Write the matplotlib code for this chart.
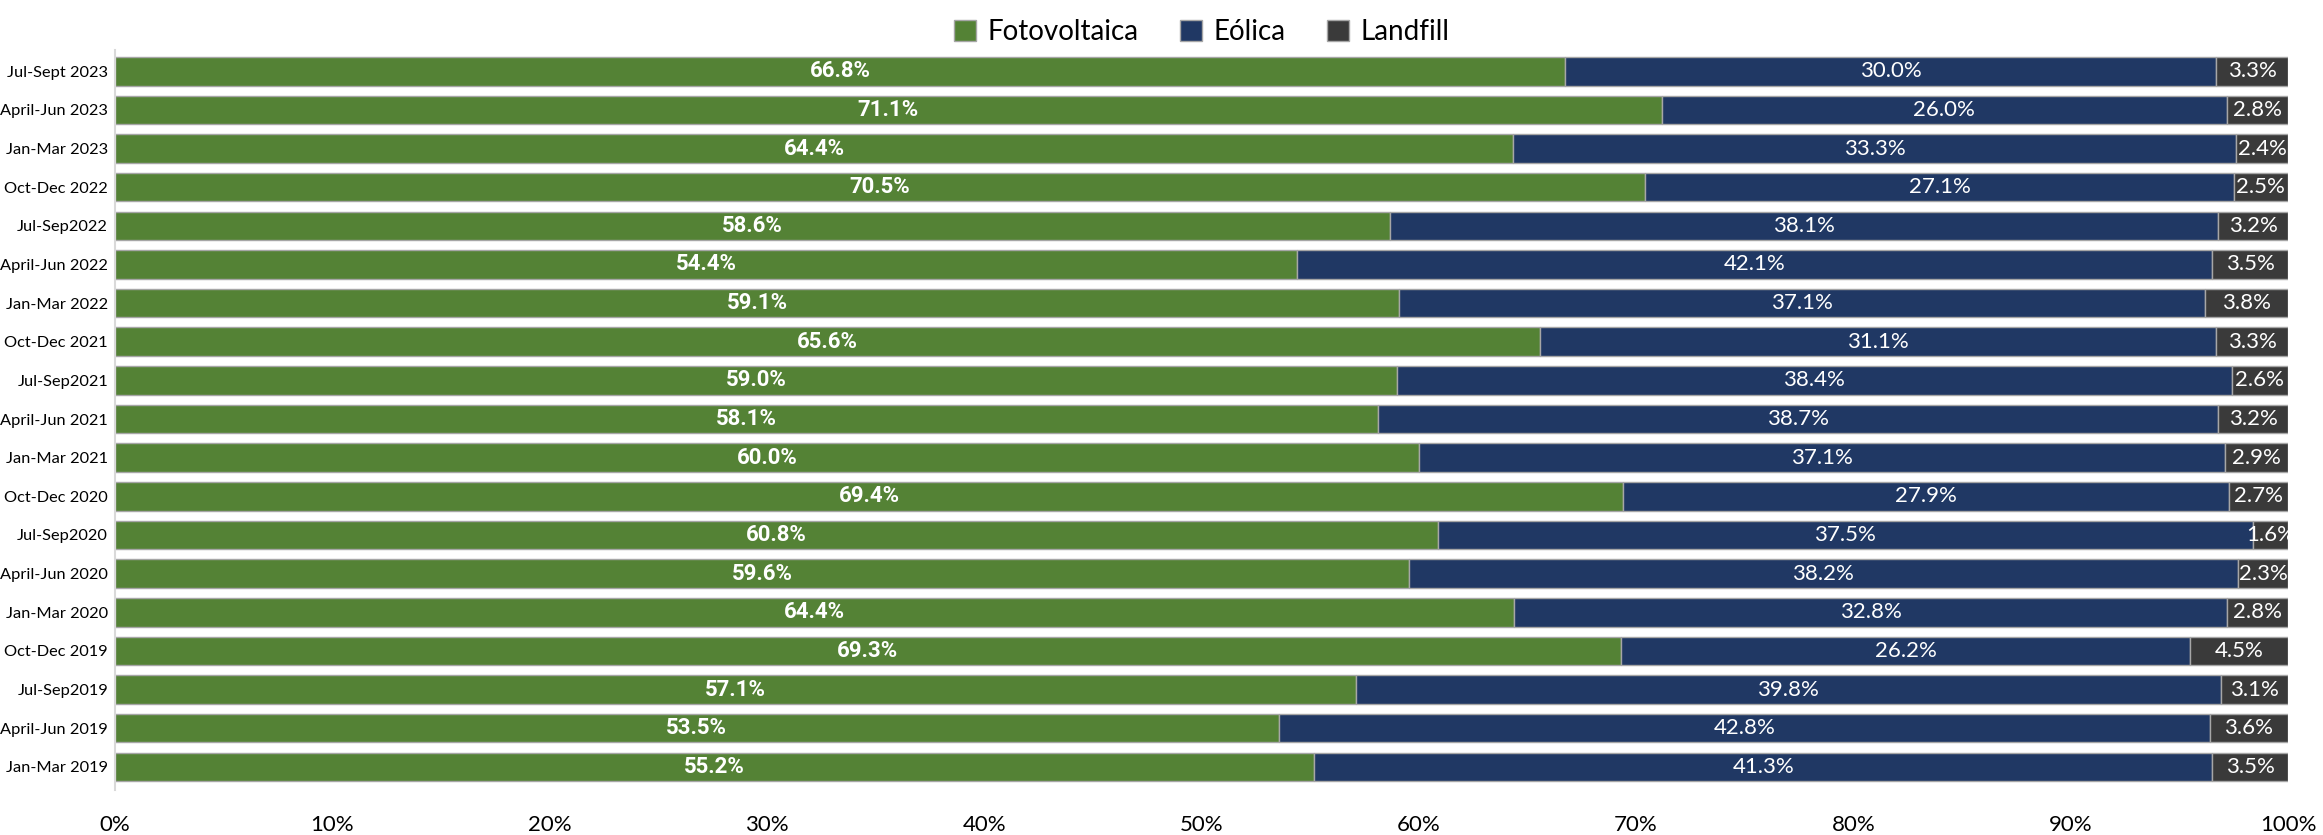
import matplotlib
matplotlib.use("Agg")
import matplotlib.pyplot as plt
import numpy as np

plt.rcParams['font.family'] = ['Lato', 'DejaVu Sans']

#%% data, top row first
periods = ['Jul-Sept 2023', 'April-Jun 2023', 'Jan-Mar 2023', 'Oct-Dec 2022', 'Jul-Sep2022',
           'April-Jun 2022', 'Jan-Mar 2022', 'Oct-Dec 2021', 'Jul-Sep2021', 'April-Jun 2021',
           'Jan-Mar 2021', 'Oct-Dec 2020', 'Jul-Sep2020', 'April-Jun 2020', 'Jan-Mar 2020',
           'Oct-Dec 2019', 'Jul-Sep2019', 'April-Jun 2019', 'Jan-Mar 2019']
fotovoltaica = [66.8, 71.1, 64.4, 70.5, 58.6, 54.4, 59.1, 65.6, 59.0, 58.1,
                60.0, 69.4, 60.8, 59.6, 64.4, 69.3, 57.1, 53.5, 55.2]
eolica = [30.0, 26.0, 33.3, 27.1, 38.1, 42.1, 37.1, 31.1, 38.4, 38.7,
          37.1, 27.9, 37.5, 38.2, 32.8, 26.2, 39.8, 42.8, 41.3]
landfill = [3.3, 2.8, 2.4, 2.5, 3.2, 3.5, 3.8, 3.3, 2.6, 3.2,
            2.9, 2.7, 1.6, 2.3, 2.8, 4.5, 3.1, 3.6, 3.5]

series = [('Fotovoltaica', fotovoltaica, '#548235', 'bold'),
          ('Eólica', eolica, '#203864', 'normal'),
          ('Landfill', landfill, '#3a3a3a', 'normal')]

#%%
vals = np.array([fotovoltaica, eolica, landfill])
shares = vals / vals.sum(axis=0) * 100
y = np.arange(len(periods))[::-1]

fig = plt.figure(figsize=(23.23, 8.35), dpi=100)
ax = fig.add_axes([115/2323, 1 - 790/835, (2288-115)/2323, (790-50)/835])

left = np.zeros(len(periods))
for (name, raw, color, weight), share in zip(series, shares):
    bars = ax.barh(y, share, left=left, height=0.74, color=color,
                   edgecolor='#a6a6a6', linewidth=1.0, label=name)
    fam = ['Roboto', 'DejaVu Sans'] if weight == 'bold' else ['Lato', 'DejaVu Sans']
    for b, v in zip(bars, raw):
        ax.text(b.get_x() + b.get_width() / 2, b.get_y() + b.get_height() / 2,
                f'{v:.1f}%', ha='center', va='center', color='white',
                fontsize=16, fontweight=weight, family=fam, clip_on=True)
    left = left + share

ax.set_xlim(0, 100)
ax.set_ylim(-0.5 - 0.1, len(periods) - 0.5 + 0.05)
ax.set_yticks(y)
ax.set_yticklabels(periods, fontsize=11.8)
ax.set_xticks(np.arange(0, 101, 10))
ax.set_xticklabels([f'{t}%' for t in range(0, 101, 10)], fontsize=16)
ax.tick_params(axis='both', length=0)
ax.tick_params(axis='y', pad=5)
ax.tick_params(axis='x', pad=18)
for s in ['top', 'right', 'bottom']:
    ax.spines[s].set_visible(False)
ax.spines['left'].set_color('#d9d9d9')
ax.spines['left'].set_linewidth(1.5)

ax.legend(loc='upper center', bbox_to_anchor=(0.5, 1.075), ncol=3, frameon=False,
          fontsize=20, handlelength=0.8, handleheight=0.8, columnspacing=1.5,
          handletextpad=0.4)

plt.savefig('out.png', dpi=100)
